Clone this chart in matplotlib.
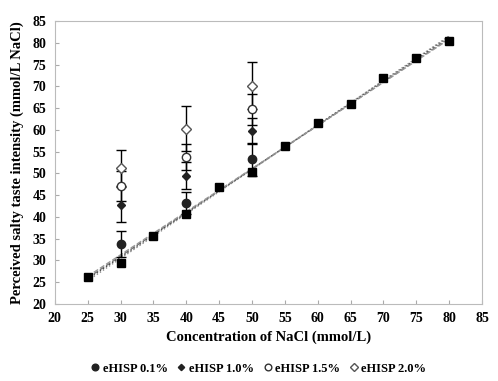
import matplotlib.pyplot as plt
import numpy as np
from matplotlib.lines import Line2D

plt.rcParams['font.family'] = ['Liberation Serif', 'DejaVu Serif']
plt.rcParams['font.weight'] = 'bold'

# NaCl standard (squares)
nacl = [25, 30, 35, 40, 45, 50, 55, 60, 65, 70, 75, 80]
nacl_int = [26.2, 29.5, 35.7, 40.7, 46.8, 50.4, 56.2, 61.5, 66.0, 72.0, 76.4, 80.4]

# eHISP samples
conc = [30, 40, 50]
h01 = [33.8, 43.2, 53.2]
h01_err = [3.0, 2.5, 3.8]
h10 = [42.8, 49.5, 59.8]
h10_err = [4.0, 3.0, 3.0]
h15 = [47.1, 53.8, 64.7]
h15_err = [3.5, 3.0, 3.5]
h20 = [51.3, 60.3, 70.1]
h20_err = [4.1, 5.2, 5.4]

# regression lines (intercept, slope)
fits = [(1.0, 1.0), (0.4, 1.012), (1.6, 0.99), (-0.2, 1.022)]
fit_styles = [('--', '0.45'), (':', '0.3'), ('--', '0.6'), (':', '0.55')]

fig = plt.figure(figsize=(4.98, 3.81), dpi=100)
ax = fig.add_axes([0.110, 0.202, 0.858, 0.743])

xs = np.array([25, 80])
for (a, b), (ls, c) in zip(fits, fit_styles):
    ax.plot(xs, a + b * xs, linestyle=ls, color=c, lw=1.0, zorder=2)

ax.plot(nacl, nacl_int, 's', color='black', ms=6, zorder=4)

series = [
    (h01, h01_err, 'o', '#222222', '#222222', 6, 'eHISP 0.1%'),
    (h10, h10_err, 'D', '#222222', '#222222', 4, 'eHISP 1.0%'),
    (h15, h15_err, 'o', 'white', '#333333', 6, 'eHISP 1.5%'),
    (h20, h20_err, 'D', 'white', '#555555', 5, 'eHISP 2.0%'),
]
handles = []
for vals, err, m, fc, ec, ms, lab in series:
    ax.errorbar(conc, vals, yerr=err, fmt=m, mfc=fc, mec=ec, ms=ms, ecolor='black',
                elinewidth=1.0, capsize=3.5, capthick=1.0, linestyle='none', zorder=5)
    handles.append(Line2D([], [], marker=m, mfc=fc, mec=ec, ms=ms * 0.8, linestyle='none', label=lab))

ax.set_xlim(20, 85)
ax.set_ylim(20, 85)
ax.set_xticks(range(20, 86, 5))
ax.set_yticks(range(20, 86, 5))
ax.tick_params(direction='in', length=3, color='#aaaaaa', labelsize=10, pad=6)
for lab in ax.get_xticklabels() + ax.get_yticklabels():
    lab.set_fontweight('bold')
for sp in ax.spines.values():
    sp.set_color('#bbbbbb')

ax.set_xlabel('Concentration of NaCl (mmol/L)', fontsize=10.5, fontweight='bold', labelpad=4)
ax.set_ylabel('Perceived salty taste intensity (mmol/L NaCl)', fontsize=10.5, fontweight='bold', labelpad=6)

fig.legend(handles=handles, loc='center', bbox_to_anchor=(0.52, 0.032), ncol=4, frameon=False,
           handlelength=0.6, handletextpad=0.3, columnspacing=0.8,
           prop={'weight': 'bold', 'size': 9})

fig.savefig('out.png', dpi=100)
